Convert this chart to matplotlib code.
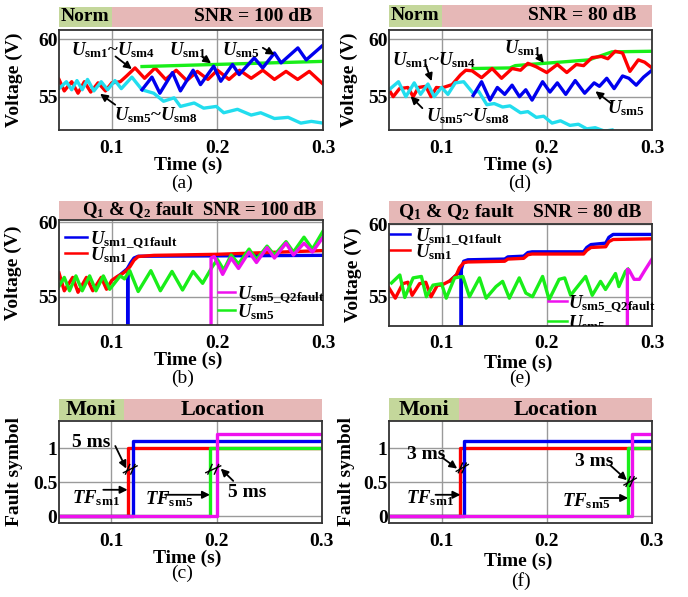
import matplotlib
matplotlib.use("Agg")
import matplotlib.pyplot as plt
from matplotlib.patches import Rectangle
from matplotlib.transforms import blended_transform_factory

plt.rcParams['font.family'] = ['Liberation Serif', 'DejaVu Serif']
plt.rcParams['font.weight'] = 'bold'
plt.rcParams['mathtext.fontset'] = 'custom'
plt.rcParams['mathtext.rm'] = 'Liberation Serif:bold'
plt.rcParams['mathtext.bf'] = 'Liberation Serif:bold'
plt.rcParams['mathtext.it'] = 'Liberation Serif:italic:bold'

# ---------------- data ----------------
x_ticks = [0.1, 0.2, 0.3]
x_tick_labels = ["0.1", "0.2", "0.3"]
v_ticks = [55, 60]
v_tick_labels = ["55", "60"]
f_ticks = [0, 0.5, 1]
f_tick_labels = ["0", "0.5", "1"]

# (a) SNR = 100 dB, normal operation
a_red_t = [0.050, 0.055, 0.062, 0.068, 0.074, 0.080, 0.087, 0.094, 0.100, 0.108, 0.114, 0.122,
           0.131, 0.141, 0.151, 0.161, 0.171, 0.181, 0.191, 0.200, 0.211, 0.221, 0.232, 0.243,
           0.254, 0.265, 0.276, 0.287, 0.300]
a_red_v = [56.5, 55.5, 56.3, 55.3, 56.3, 55.4, 56.2, 55.5, 56.2, 56.3, 56.8, 57.5,
           56.6, 57.5, 56.5, 57.3, 56.4, 57.2, 56.5, 57.3, 56.5, 57.3, 56.6, 57.3,
           56.5, 57.2, 56.5, 57.2, 56.1]
a_green_t = [0.1286, 0.300]
a_green_v = [57.62, 58.07]
a_blue_t = [0.1286, 0.138, 0.1455, 0.1575, 0.165, 0.177, 0.184, 0.1965, 0.2032, 0.2143, 0.2206,
            0.2349, 0.2429, 0.254, 0.2603, 0.2762, 0.2841, 0.2990]
a_blue_v = [55.6, 56.7, 55.3, 57.1, 55.5, 57.3, 56.05, 57.65, 56.34, 57.8, 56.92,
            58.37, 57.5, 58.8, 57.94, 59.24, 58.2, 59.4]
a_cyan_t = [0.050, 0.057, 0.062, 0.067, 0.072, 0.077, 0.083, 0.090, 0.096, 0.103, 0.109, 0.119,
            0.1286, 0.1397, 0.149, 0.159, 0.165, 0.178, 0.187, 0.199, 0.206, 0.219, 0.232, 0.241,
            0.254, 0.267, 0.279, 0.289, 0.300]
a_cyan_v = [55.7, 56.3, 55.6, 56.4, 55.6, 56.5, 55.5, 56.3, 55.6, 56.4, 55.7, 56.7,
            55.6, 55.3, 54.6, 54.9, 54.15, 54.45, 54.0, 54.15, 53.6, 53.9, 53.4, 53.6,
            53.1, 53.2, 52.7, 52.85, 52.7]

# (d) SNR = 80 dB, normal operation
d_red_t = [0.050, 0.054, 0.060, 0.068, 0.073, 0.078, 0.085, 0.090, 0.095, 0.100, 0.110, 0.118,
           0.123, 0.129, 0.138, 0.148, 0.157, 0.167, 0.175, 0.182, 0.190, 0.200, 0.210, 0.219,
           0.228, 0.235, 0.243, 0.252, 0.258, 0.265, 0.272, 0.279, 0.287, 0.293, 0.300]
d_red_v = [55.6, 55.0, 55.7, 55.8, 55.0, 55.8, 55.9, 55.0, 55.8, 55.75, 56.05, 56.9,
           57.3, 57.25, 56.65, 57.45, 56.6, 57.45, 57.3, 57.9, 57.6, 57.1, 57.8, 57.1,
           57.8, 57.7, 58.4, 58.5, 58.3, 58.95, 58.8, 57.2, 58.2, 58.0, 57.5]
d_green_t = [0.130, 0.165, 0.170, 0.190, 0.205, 0.240, 0.262, 0.300]
d_green_v = [57.45, 57.5, 57.7, 57.85, 57.95, 58.2, 58.9, 58.95]
d_blue_t = [0.130, 0.138, 0.146, 0.153, 0.160, 0.167, 0.174, 0.180, 0.186, 0.196, 0.203, 0.210,
            0.218, 0.227, 0.236, 0.245, 0.250, 0.257, 0.264, 0.272, 0.278, 0.285, 0.292, 0.300]
d_blue_v = [55.1, 56.3, 54.7, 55.8, 55.2, 56.0, 55.0, 55.6, 54.7, 56.3, 55.4, 56.2,
            55.2, 56.4, 55.3, 56.2, 55.9, 56.6, 55.7, 56.8, 56.6, 56.0, 56.7, 57.3]
d_cyan_t = [0.050, 0.059, 0.066, 0.074, 0.080, 0.087, 0.093, 0.100, 0.106, 0.113, 0.121, 0.130,
            0.135, 0.143, 0.150, 0.158, 0.165, 0.175, 0.182, 0.190, 0.197, 0.205, 0.213, 0.222,
            0.230, 0.238, 0.246, 0.255, 0.262]
d_cyan_v = [55.6, 56.3, 55.0, 56.2, 55.2, 56.1, 55.0, 55.8, 55.2, 56.2, 56.3, 55.3,
            55.5, 54.3, 54.4, 54.1, 54.2, 53.6, 53.7, 53.2, 53.3, 52.7, 52.9, 52.5,
            52.6, 52.2, 52.3, 52.0, 52.1]

# (b) SNR = 100 dB, Q1 & Q2 fault
b_red_t = [0.050, 0.055, 0.063, 0.068, 0.076, 0.082, 0.090, 0.095, 0.100, 0.105, 0.110, 0.113,
           0.117, 0.121, 0.125, 0.140, 0.200, 0.300]
b_red_v = [56.6, 55.4, 56.3, 55.3, 56.3, 55.4, 56.3, 55.5, 56.1, 56.35, 56.55, 56.7,
           57.0, 57.45, 57.7, 57.78, 57.85, 58.1]
b_blue_t = [0.105, 0.110, 0.1150, 0.1151, 0.1152, 0.118, 0.121, 0.125, 0.300]
b_blue_v = [56.3, 56.6, 56.9, 0.0, 56.95, 57.3, 57.6, 57.72, 57.78]
b_green_t = [0.050, 0.055, 0.060, 0.066, 0.072, 0.079, 0.085, 0.092, 0.098, 0.108, 0.112, 0.117,
             0.125, 0.137, 0.146, 0.157, 0.167, 0.177, 0.186, 0.195, 0.200, 0.206, 0.213, 0.220,
             0.230, 0.237, 0.247, 0.254, 0.265, 0.272, 0.282, 0.290, 0.300]
b_green_v = [55.7, 56.3, 55.4, 56.4, 55.4, 56.4, 55.4, 56.4, 55.5, 56.4, 56.2, 56.75,
             55.35, 56.75, 55.4, 56.7, 55.45, 56.7, 55.9, 57.0, 57.5, 56.8, 57.8, 57.2,
             58.2, 57.5, 58.4, 57.8, 58.7, 58.0, 59.0, 58.2, 59.4]
b_mag_t = [0.1937, 0.1940, 0.197, 0.205, 0.213, 0.220, 0.230, 0.237, 0.247, 0.254, 0.265,
           0.272, 0.282, 0.290, 0.300]
b_mag_v = [0.0, 57.6, 57.7, 56.5, 57.6, 56.9, 58.0, 57.3, 58.3, 57.6, 58.6,
           57.8, 58.6, 58.0, 59.0]

# (e) SNR = 80 dB, Q1 & Q2 fault
e_red_t = [0.050, 0.056, 0.063, 0.068, 0.072, 0.079, 0.085, 0.090, 0.096, 0.100, 0.108, 0.114,
           0.117, 0.121, 0.125, 0.160, 0.163, 0.178, 0.182, 0.186, 0.235, 0.238, 0.242, 0.256,
           0.259, 0.263, 0.300]
e_red_v = [55.6, 54.9, 55.9, 56.0, 55.1, 55.9, 56.0, 55.0, 55.8, 55.8, 56.1, 56.5,
           57.0, 57.35, 57.4, 57.45, 57.6, 57.65, 57.9, 57.95, 57.95, 58.2, 58.4, 58.45,
           58.8, 58.95, 59.0]
e_blue_t = [0.108, 0.114, 0.1186, 0.1187, 0.1188, 0.121, 0.125, 0.160, 0.163, 0.178, 0.182,
            0.186, 0.235, 0.238, 0.242, 0.256, 0.259, 0.263, 0.300]
e_blue_v = [56.1, 56.5, 56.8, 0.0, 56.9, 57.45, 57.55, 57.6, 57.75, 57.8, 58.05,
            58.1, 58.1, 58.4, 58.6, 58.7, 59.1, 59.3, 59.3]
e_green_t = [0.0524, 0.0603, 0.065, 0.0729, 0.0808, 0.0855, 0.0918, 0.100, 0.1044, 0.1123,
             0.1202, 0.1265, 0.136, 0.1423, 0.1517, 0.158, 0.1644, 0.1738, 0.1801, 0.1864,
             0.196, 0.2022, 0.2117, 0.2170, 0.2227, 0.2270, 0.2369, 0.2432, 0.2511, 0.2558,
             0.2653, 0.2685, 0.2748, 0.2773]
e_green_v = [55.95, 56.5, 54.95, 56.3, 56.4, 55.0, 55.8, 55.9, 54.9, 56.3,
             56.4, 55.0, 56.3, 54.9, 55.7, 56.06, 54.9, 56.3, 55.25, 55.0,
             56.4, 54.8, 56.2, 56.3, 55.1, 55.5, 56.4, 55.1, 56.06, 55.5,
             56.6, 55.7, 56.75, 56.9]
e_mag_t = [0.2765, 0.2766, 0.2785, 0.2830, 0.2880, 0.2930, 0.3000]
e_mag_v = [0.0, 56.9, 56.8, 56.2, 56.2, 56.8, 57.6]

# (c) fault symbols, SNR = 100 dB  (step times in s, levels)
c_red_t = [0.050, 0.1155, 0.300];  c_red_v = [0, 1.0, 1.0]
c_blue_t = [0.050, 0.1205, 0.300]; c_blue_v = [0, 1.1, 1.1]
c_green_t = [0.050, 0.1938, 0.300]; c_green_v = [0, 1.0, 1.0]
c_mag_t = [0.050, 0.2000, 0.300];  c_mag_v = [0, 1.2, 1.2]
# (f) fault symbols, SNR = 80 dB
f_red_t = [0.050, 0.1180, 0.300];  f_red_v = [0, 1.0, 1.0]
f_blue_t = [0.050, 0.1215, 0.300]; f_blue_v = [0, 1.1, 1.1]
f_green_t = [0.050, 0.2776, 0.300]; f_green_v = [0, 1.0, 1.0]
f_mag_t = [0.050, 0.2813, 0.300];  f_mag_v = [0, 1.2, 1.2]

# ---------------- style ----------------
RED = '#ff0000'
BLUE = '#0000ee'
GREEN = '#19ee19'
CYAN = '#22ddee'
MAG = '#ee11ee'
BAND_G = '#c4d79b'
BAND_P = '#e6b8b7'
LW = 2.4
W, H = 688, 597

fig = plt.figure(figsize=(W / 100, H / 100), dpi=100)


def make_ax(l, r, t, b):
    return fig.add_axes([l / W, 1 - b / H, (r - l) / W, (b - t) / H])


def U(sub):
    return r'$\mathit{U}_{\mathrm{' + sub + '}}$'


def setup(ax, ylim, yt, ytl, ylabel, ylab_x, xlab_y):
    ax.set_xlim(0.05, 0.3)
    ax.set_ylim(*ylim)
    ax.set_xticks(x_ticks)
    ax.set_xticklabels(x_tick_labels)
    ax.set_yticks(yt)
    ax.set_yticklabels(ytl)
    ax.grid(True, color='#9a9a9a', lw=1.0)
    ax.set_axisbelow(True)
    for s in ax.spines.values():
        s.set_color('#333333')
        s.set_linewidth(1.3)
    ax.tick_params(axis='both', length=0, labelsize=14)
    ax.tick_params(axis='x', pad=7)
    ax.tick_params(axis='y', pad=1)
    ax.set_ylabel(ylabel, fontsize=14, fontweight='bold')
    ax.yaxis.set_label_coords(ylab_x, 0.5)
    ax.set_xlabel('Time (s)', fontsize=14, fontweight='bold')
    ax.xaxis.label.set_va('center')
    ax.xaxis.set_label_coords(0.49, xlab_y)


def band(ax, segs, y0, y1):
    tr = blended_transform_factory(ax.transData, ax.transAxes)
    for x0, x1, c in segs:
        ax.add_patch(Rectangle((x0, y0), x1 - x0, y1 - y0, transform=tr,
                               facecolor=c, edgecolor='none', clip_on=False, zorder=0))
    return tr


def arrow(ax, head, tail):
    ax.annotate('', xy=head, xytext=tail,
                arrowprops=dict(arrowstyle='-|>', color='black', lw=1.3,
                                mutation_scale=11, shrinkA=0, shrinkB=0))


def note(ax, x, y, s, size=13.5, ha='left'):
    ax.text(x, y, s, fontsize=size, fontweight='bold', ha=ha, va='center')


def legend_entry(ax, x0, x1, y, tx, color, label, clip=False):
    ax.plot([x0, x1], [y, y], color=color, lw=1.8, transform=ax.transAxes, clip_on=False)
    ax.annotate(label, xy=(tx, y), xycoords='axes fraction', xytext=(0, -5),
                textcoords='offset points', va='baseline', ha='left', fontsize=13.5,
                fontweight='bold', annotation_clip=False, clip_on=clip)


def slashes(ax, t1, t2, y):
    ax.plot([t1 - 0.004, t2 + 0.004], [y - 0.05, y + 0.05], color='black', lw=1.0)
    for t in (t1, t2):
        ax.plot([t - 0.002, t + 0.002], [y - 0.07, y + 0.07], color='black', lw=1.0)


# ================= (a) =================
ax = make_ax(59, 323, 30, 130)
setup(ax, (52.1, 60.8), v_ticks, v_tick_labels, 'Voltage (V)', -0.136, -0.35)
tr = band(ax, [(0.05, 0.1, BAND_G), (0.1, 0.3, BAND_P)], 1.03, 1.225)
ax.text(0.075, 1.135, 'Norm', transform=tr, fontsize=14, ha='center', va='center')
ax.text(0.958, 1.135, 'SNR = 100 dB', transform=ax.transAxes, fontsize=14, ha='right', va='center')
ax.plot(a_red_t, a_red_v, color=RED, lw=LW)
ax.plot(a_green_t, a_green_v, color=GREEN, lw=LW)
ax.plot(a_cyan_t, a_cyan_v, color=CYAN, lw=LW)
ax.plot(a_blue_t, a_blue_v, color=BLUE, lw=LW)
note(ax, 0.0615, 59.07, U('sm1') + '~' + U('sm4'))
arrow(ax, (0.119, 57.4), (0.1035, 58.5))
note(ax, 0.154, 59.07, U('sm1'))
arrow(ax, (0.194, 57.9), (0.1858, 58.45))
note(ax, 0.2047, 59.07, U('sm5'))
arrow(ax, (0.254, 58.65), (0.243, 59.25))
note(ax, 0.1017, 53.4, U('sm5') + '~' + U('sm8'))
arrow(ax, (0.0889, 55.25), (0.1032, 54.3))
fig.text(182 / W, 1 - 183 / H, '(a)', fontsize=14, fontweight='normal', ha='center', va='center')

# ================= (d) =================
ax = make_ax(389, 652, 30, 130)
setup(ax, (52.1, 60.8), v_ticks, v_tick_labels, 'Voltage (V)', -0.118, -0.35)
tr = band(ax, [(0.05, 0.1, BAND_G), (0.1, 0.3, BAND_P)], 1.033, 1.25)
ax.text(0.075, 1.14, 'Norm', transform=tr, fontsize=14, ha='center', va='center')
ax.text(0.942, 1.14, 'SNR = 80 dB', transform=ax.transAxes, fontsize=14, ha='right', va='center')
ax.plot(d_green_t, d_green_v, color=GREEN, lw=LW)
ax.plot(d_red_t, d_red_v, color=RED, lw=LW)
ax.plot(d_cyan_t, d_cyan_v, color=CYAN, lw=LW)
ax.plot(d_blue_t, d_blue_v, color=BLUE, lw=LW)
note(ax, 0.0532, 58.22, U('sm1') + '~' + U('sm4'))
arrow(ax, (0.0905, 56.35), (0.0848, 57.8))
note(ax, 0.1592, 59.24, U('sm1'))
arrow(ax, (0.1971, 57.93), (0.191, 58.66))
note(ax, 0.2574, 54.0, U('sm5'))
arrow(ax, (0.2462, 55.47), (0.2606, 54.45))
note(ax, 0.0848, 53.29, U('sm5') + '~' + U('sm8'))
arrow(ax, (0.0706, 55.03), (0.0817, 54.0))
fig.text(520 / W, 1 - 183 / H, '(d)', fontsize=14, fontweight='normal', ha='center', va='center')

# ================= (b) =================
ax = make_ax(59, 323, 220, 325)
setup(ax, (53.1, 60.155), v_ticks, v_tick_labels, 'Voltage (V)', -0.141, -0.333)
tr = band(ax, [(0.05, 0.3, BAND_P)], 1.007, 1.181)
ax.text(0.088, 1.095, r'Q$_{\mathrm{1}}$ & Q$_{\mathrm{2}}$ fault', transform=ax.transAxes,
        fontsize=13.5, ha='left', va='center')
ax.text(0.976, 1.095, 'SNR = 100 dB', transform=ax.transAxes, fontsize=13.5, ha='right', va='center')
ax.plot(b_blue_t, b_blue_v, color=BLUE, lw=LW)
ax.plot(b_red_t, b_red_v, color=RED, lw=LW)
ax.plot(b_green_t, b_green_v, color=GREEN, lw=LW)
ax.plot(b_mag_t, b_mag_v, color=MAG, lw=LW)
legend_entry(ax, 0.023, 0.106, 0.838, 0.117, BLUE, U(r'sm1\_Q1fault'))
legend_entry(ax, 0.023, 0.106, 0.686, 0.117, RED, U('sm1'))
legend_entry(ax, 0.602, 0.667, 0.314, 0.674, MAG, U(r'sm5\_Q2fault'))
legend_entry(ax, 0.602, 0.667, 0.143, 0.674, GREEN, U('sm5'))
fig.text(183 / W, 1 - 378 / H, '(b)', fontsize=14, fontweight='normal', ha='center', va='center')

# ================= (e) =================
ax = make_ax(389, 652, 224.3, 325.7)
setup(ax, (53.0, 60.0), v_ticks, v_tick_labels, 'Voltage (V)', -0.104, -0.37)
tr = band(ax, [(0.05, 0.3, BAND_P)], 1.01, 1.227)
ax.text(0.035, 1.12, r'Q$_{\mathrm{1}}$ & Q$_{\mathrm{2}}$ fault', transform=ax.transAxes,
        fontsize=14, ha='left', va='center')
ax.text(0.961, 1.12, 'SNR = 80 dB', transform=ax.transAxes, fontsize=14, ha='right', va='center')
ax.plot(e_blue_t, e_blue_v, color=BLUE, lw=LW)
ax.plot(e_red_t, e_red_v, color=RED, lw=LW)
ax.plot(e_green_t, e_green_v, color=GREEN, lw=LW)
ax.plot(e_mag_t, e_mag_v, color=MAG, lw=LW)
legend_entry(ax, 0.004, 0.080, 0.90, 0.10, BLUE, U(r'sm1\_Q1fault'))
legend_entry(ax, 0.004, 0.080, 0.744, 0.10, RED, U('sm1'))
legend_entry(ax, 0.605, 0.677, 0.243, 0.681, MAG, U(r'sm5\_Q2fault'))
legend_entry(ax, 0.605, 0.677, 0.046, 0.681, GREEN, U('sm5'), clip=True)
fig.text(520 / W, 1 - 378 / H, '(e)', fontsize=14, fontweight='normal', ha='center', va='center')

# ================= (c) =================
ax = make_ax(58.7, 321.7, 420.7, 523.3)
setup(ax, (-0.1, 1.4), f_ticks, f_tick_labels, 'Fault symbol', -0.136, -0.338)
tr = band(ax, [(0.05, 0.1117, BAND_G), (0.1117, 0.3, BAND_P)], 1.003, 1.208)
ax.text((0.05 + 0.1117) / 2, 1.104, 'Moni', transform=tr, fontsize=16, ha='center', va='center')
ax.text((0.1117 + 0.3) / 2, 1.104, 'Location', transform=tr, fontsize=16, ha='center', va='center')
ax.step(c_red_t, c_red_v, where='post', color=RED, lw=LW)
ax.step(c_blue_t, c_blue_v, where='post', color=BLUE, lw=LW)
ax.step(c_green_t, c_green_v, where='post', color=GREEN, lw=LW)
ax.step(c_mag_t, c_mag_v, where='post', color=MAG, lw=LW)
slashes(ax, c_red_t[1], c_blue_t[1], 0.69)
slashes(ax, c_green_t[1], c_mag_t[1], 0.69)
note(ax, 0.063, 1.08, '5 ms', size=14)
arrow(ax, (0.1142, 0.70), (0.1038, 1.03))
note(ax, 0.063, 0.27, r'$\mathit{TF}_{\mathrm{sm1}}$')
arrow(ax, (c_red_t[1], 0.39), (0.0924, 0.39))
note(ax, 0.1322, 0.26, r'$\mathit{TF}_{\mathrm{sm5}}$')
arrow(ax, (c_green_t[1], 0.317), (0.1512, 0.317))
note(ax, 0.2111, 0.35, '5 ms', size=14)
arrow(ax, (0.204, 0.70), (0.2159, 0.52))
fig.text(182 / W, 1 - 573 / H, '(c)', fontsize=14, fontweight='normal', ha='center', va='center')

# ================= (f) =================
ax = make_ax(389, 651.7, 420.7, 523.3)
setup(ax, (-0.1, 1.4), f_ticks, f_tick_labels, 'Fault symbol', -0.129, -0.374)
tr = band(ax, [(0.05, 0.1164, BAND_G), (0.1164, 0.3, BAND_P)], 1.0, 1.217)
ax.text((0.05 + 0.1164) / 2, 1.104, 'Moni', transform=tr, fontsize=16, ha='center', va='center')
ax.text((0.1164 + 0.3) / 2, 1.104, 'Location', transform=tr, fontsize=16, ha='center', va='center')
ax.step(f_red_t, f_red_v, where='post', color=RED, lw=LW)
ax.step(f_blue_t, f_blue_v, where='post', color=BLUE, lw=LW)
ax.step(f_green_t, f_green_v, where='post', color=GREEN, lw=LW)
ax.step(f_mag_t, f_mag_v, where='post', color=MAG, lw=LW)
slashes(ax, f_red_t[1], f_blue_t[1], 0.71)
slashes(ax, f_green_t[1], f_mag_t[1], 0.51)
note(ax, 0.0674, 0.90, '3 ms', size=14)
arrow(ax, (0.1149, 0.70), (0.1007, 0.86))
note(ax, 0.0658, 0.27, r'$\mathit{TF}_{\mathrm{sm1}}$')
arrow(ax, (f_red_t[1], 0.317), (0.0943, 0.317))
note(ax, 0.2146, 0.22, r'$\mathit{TF}_{\mathrm{sm5}}$')
arrow(ax, (f_green_t[1], 0.27), (0.251, 0.27))
note(ax, 0.2273, 0.80, '3 ms', size=14)
arrow(ax, (0.2764, 0.53), (0.2605, 0.75))
fig.text(521 / W, 1 - 581 / H, '(f)', fontsize=14, fontweight='normal', ha='center', va='center')

fig.savefig('out.png', dpi=100)
